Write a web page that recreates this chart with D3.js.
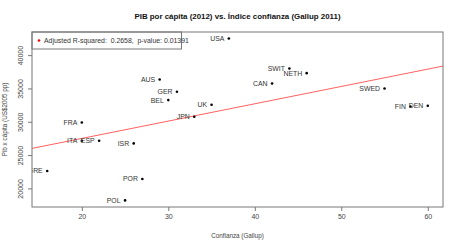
<!DOCTYPE html>
<html>
<head>
<meta charset="utf-8">
<script src="https://cdn.jsdelivr.net/npm/d3@7"></script>
<style>
  body { margin: 0; background: #fff; }
  text { font-family: "Liberation Sans", Arial, sans-serif; }
</style>
</head>
<body>
<div id="chart"></div>
<script>
// data
var countries = ["USA", "AUS", "GER", "BEL", "UK", "JPN", "FRA", "ITA", "ESP", "ISR",
                 "GRE", "POR", "POL", "SWIT", "NETH", "CAN", "SWED", "FIN", "DEN"];
var confianza = [37, 29, 31, 30, 35, 33, 20, 20, 22, 26, 16, 27, 25, 44, 46, 42, 55, 58, 60];
var pib = [42500, 36350, 34500, 33250, 32550, 30750, 29900, 27150, 27150, 26750,
           22600, 21400, 18200, 38000, 37300, 35750, 35000, 32300, 32400];
var xTicks = [20, 30, 40, 50, 60];
var yTicks = [20000, 25000, 30000, 35000, 40000];
// fitted line
var fitIntercept = 22300, fitSlope = 260;
var legendText = "Adjusted R-squared:  0.2658,  p-value: 0.01391";

var width = 460, height = 247;
var margin = {top: 32, right: 17, bottom: 40, left: 32};

var svg = d3.select("#chart")
    .append("svg")
    .attr("width", width)
    .attr("height", height);

var x = d3.scaleLinear()
    .domain([14.24, 61.76])
    .range([margin.left, width - margin.right]);

var y = d3.scaleLinear()
    .domain([17207, 43473])
    .range([height - margin.bottom, margin.top]);

// title
svg.append("text")
    .attr("x", 237.5)
    .attr("y", 19)
    .attr("text-anchor", "middle")
    .attr("font-weight", "bold")
    .attr("font-size", 7.9)
    .attr("fill", "#111")
    .text("PIB por cápita (2012) vs. Índice confianza (Gallup 2011)");

// x axis
var xAxis = svg.append("g")
    .attr("transform", "translate(0," + (height - margin.bottom) + ")")
    .call(d3.axisBottom(x).tickValues(xTicks).tickSize(4).tickPadding(3));
xAxis.select(".domain").remove();
xAxis.selectAll("line").attr("stroke", "#777");
xAxis.selectAll("text").attr("font-size", 7).attr("fill", "#444")
    .style("font-family", "'Liberation Sans', Arial, sans-serif");

// y axis
var yAxis = svg.append("g")
    .attr("transform", "translate(" + margin.left + ",0)")
    .call(d3.axisLeft(y).tickValues(yTicks).tickSize(4).tickFormat(d3.format("d")));
yAxis.select(".domain").remove();
yAxis.selectAll("line").attr("stroke", "#777");
yAxis.selectAll("text")
    .attr("font-size", 7).attr("fill", "#444")
    .style("font-family", "'Liberation Sans', Arial, sans-serif")
    .attr("text-anchor", "middle")
    .attr("x", 0).attr("dy", 0)
    .attr("transform", "translate(-9,0) rotate(-90)");

// axis titles
svg.append("text")
    .attr("x", 237.5)
    .attr("y", 237.5)
    .attr("text-anchor", "middle")
    .attr("font-size", 6.3)
    .attr("fill", "#444")
    .text("Confianza (Gallup)");

svg.append("text")
    .attr("transform", "translate(7," + ((margin.top + height - margin.bottom) / 2) + ") rotate(-90)")
    .attr("text-anchor", "middle")
    .attr("font-size", 6.3)
    .attr("fill", "#444")
    .text("Pib x cápita (US$2005 pp)");

// clip to plot region
svg.append("clipPath")
    .attr("id", "clip")
    .append("rect")
    .attr("x", margin.left)
    .attr("y", margin.top)
    .attr("width", width - margin.left - margin.right)
    .attr("height", height - margin.top - margin.bottom);

var plot = svg.append("g").attr("clip-path", "url(#clip)");

// regression line
var xd = x.domain();
plot.append("line")
    .attr("x1", x(xd[0]))
    .attr("y1", y(fitIntercept + fitSlope * xd[0]))
    .attr("x2", x(xd[1]))
    .attr("y2", y(fitIntercept + fitSlope * xd[1]))
    .attr("stroke", "#ff6060")
    .attr("stroke-width", 1);

var pts = countries.map(function(c, i) { return {name: c, cx: confianza[i], py: pib[i]}; });

plot.selectAll("circle.pt")
    .data(pts)
    .enter().append("circle")
    .attr("class", "pt")
    .attr("cx", function(d) { return x(d.cx); })
    .attr("cy", function(d) { return y(d.py); })
    .attr("r", 1.3)
    .attr("fill", "#000");

plot.selectAll("text.lab")
    .data(pts)
    .enter().append("text")
    .attr("class", "lab")
    .attr("x", function(d) { return x(d.cx) - 4.5; })
    .attr("y", function(d) { return y(d.py); })
    .attr("dy", "0.35em")
    .attr("text-anchor", "end")
    .attr("font-size", 6.9)
    .attr("fill", "#333")
    .text(function(d) { return d.name; });

// legend
svg.append("rect")
    .attr("x", margin.left)
    .attr("y", margin.top)
    .attr("width", 149.5)
    .attr("height", 17)
    .attr("fill", "#fff")
    .attr("stroke", "#777")
    .attr("stroke-width", 1);
svg.append("circle")
    .attr("cx", margin.left + 7)
    .attr("cy", margin.top + 8.5)
    .attr("r", 1.3)
    .attr("fill", "red");
svg.append("text")
    .attr("x", margin.left + 12)
    .attr("y", margin.top + 8.5)
    .attr("dy", "0.35em")
    .attr("font-size", 6.9)
    .attr("fill", "#333")
    .style("white-space", "pre")
    .text(legendText);

// box
svg.append("rect")
    .attr("x", margin.left)
    .attr("y", margin.top)
    .attr("width", width - margin.left - margin.right)
    .attr("height", height - margin.top - margin.bottom)
    .attr("fill", "none")
    .attr("stroke", "#777")
    .attr("stroke-width", 1);
</script>
</body>
</html>
